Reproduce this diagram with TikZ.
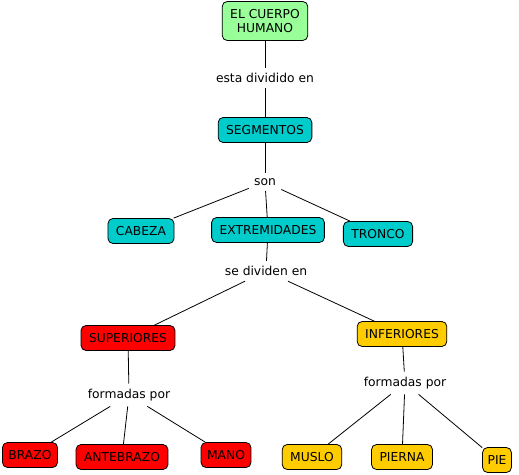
\documentclass[tikz,border=0pt]{standalone}
\usepackage{fontspec}
\setmainfont{DejaVu Sans}
\usepackage{xcolor}
\usepackage{tikz}
\usetikzlibrary{positioning}

\definecolor{verde}{RGB}{153,255,153}
\definecolor{turquesa}{RGB}{0,204,204}
\definecolor{rojo}{RGB}{255,0,0}
\definecolor{amarillo}{RGB}{255,204,0}

\begin{document}
\begin{tikzpicture}[x=1pt,y=-1pt,font=\fontsize{12.3}{14}\selectfont,line width=0.8pt,
  concepto/.style={draw,rounded corners=5pt,inner xsep=8pt,inner ysep=2pt,minimum height=25pt},
  enlace/.style={inner sep=5pt}]
\useasboundingbox (0,0) rectangle (519,474);
\node[concepto,fill=verde,align=center,minimum height=39pt] (cuerpo) at (265,21) {EL CUERPO\\HUMANO};
\node[enlace] (div) at (265,78) {esta dividido en};
\node[concepto,fill=turquesa] (seg) at (265,130) {SEGMENTOS};
\node[enlace] (son) at (265,182) {son};
\node[concepto,fill=turquesa] (cab) at (141,231) {CABEZA};
\node[concepto,fill=turquesa] (ext) at (268,230) {EXTREMIDADES};
\node[concepto,fill=turquesa] (tro) at (378,234) {TRONCO};
\node[enlace] (sedi) at (266,271) {se dividen en};
\node[concepto,fill=rojo] (sup) at (128,338) {SUPERIORES};
\node[concepto,fill=amarillo] (inf) at (402,334) {INFERIORES};
\node[enlace] (forS) at (129,395) {formadas por};
\node[enlace] (forI) at (405,383) {formadas por};
\node[concepto,fill=rojo,inner xsep=6pt] (bra) at (30,455) {BRAZO};
\node[concepto,fill=rojo] (ant) at (122,457) {ANTEBRAZO};
\node[concepto,fill=rojo,inner xsep=6pt] (man) at (226,455) {MANO};
\node[concepto,fill=amarillo] (mus) at (312,457) {MUSLO};
\node[concepto,fill=amarillo] (pie) at (402,457) {PIERNA};
\node[concepto,fill=amarillo,inner xsep=5pt] (pi) at (497,460) {PIE};
\draw (cuerpo)--(div); \draw (div)--(seg); \draw (seg)--(son);
\draw (son)--(cab); \draw (son)--(ext); \draw (son)--(tro);
\draw (ext)--(sedi); \draw (sedi)--(sup); \draw (sedi)--(inf);
\draw (sup)--(forS); \draw (forS)--(bra); \draw (forS)--(ant); \draw (forS)--(man);
\draw (inf)--(forI); \draw (forI)--(mus); \draw (forI)--(pie); \draw (forI)--(pi);
\end{tikzpicture}
\end{document}
